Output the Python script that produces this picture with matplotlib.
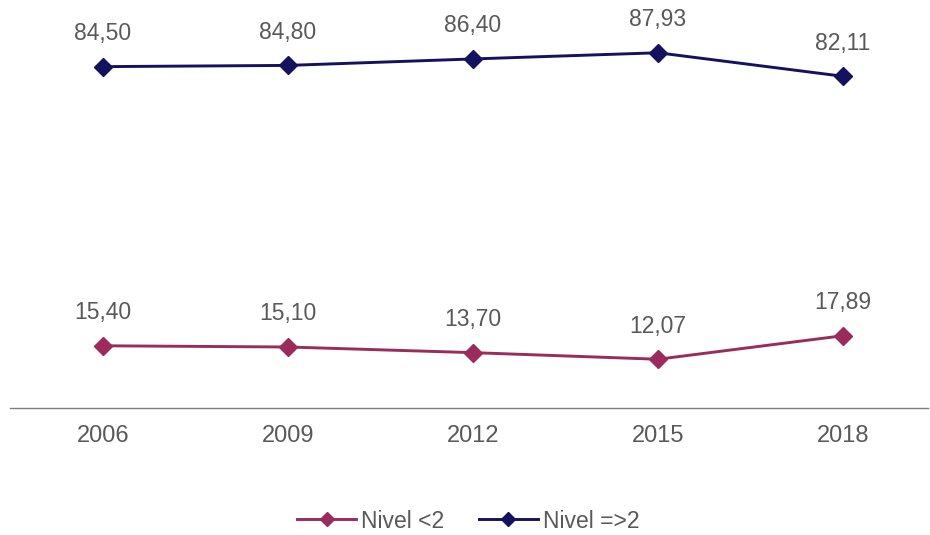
import matplotlib.pyplot as plt

years = ['2006', '2009', '2012', '2015', '2018']
nivel_bajo = [15.40, 15.10, 13.70, 12.07, 17.89]
nivel_alto = [84.50, 84.80, 86.40, 87.93, 82.11]

plt.rcParams['font.family'] = ['Liberation Sans', 'DejaVu Sans']

fig = plt.figure(figsize=(9.3, 5.35), dpi=100)
ax = fig.add_axes([10 / 930, 1 - 408 / 535, 918 / 930, 404 / 535])

x = list(range(len(years)))
series = [
    (nivel_bajo, '#9B2B5C', 'Nivel <2'),
    (nivel_alto, '#14115E', 'Nivel =>2'),
]
for vals, col, lab in series:
    ax.plot(x, vals, color=col, lw=2.1, marker='D', ms=9, label=lab)
    for xi, v in zip(x, vals):
        ax.annotate(f'{v:.2f}'.replace('.', ','), (xi, v), xytext=(0, 15.5),
                    textcoords='offset points', ha='center', va='bottom',
                    fontsize=16.5, color='#595959')

ax.set_xlim(-0.503, 4.46)
ax.set_ylim(0, 100)
ax.set_xticks(x)
ax.set_xticklabels(years, fontsize=17, color='#595959')
ax.tick_params(axis='x', length=0, pad=12)
ax.set_yticks([])
for s in ['top', 'left', 'right']:
    ax.spines[s].set_visible(False)
ax.spines['bottom'].set_color('#7F7F7F')
ax.spines['bottom'].set_linewidth(1)

leg = fig.legend(loc='center', bbox_to_anchor=(468 / 930, 1 - 521 / 535), ncol=2,
                 frameon=False, fontsize=16.5, handlelength=2.6, columnspacing=1.5,
                 handletextpad=0.2, markerscale=0.8)
for t in leg.get_texts():
    t.set_color('#595959')

fig.savefig('out.png', dpi=100)
